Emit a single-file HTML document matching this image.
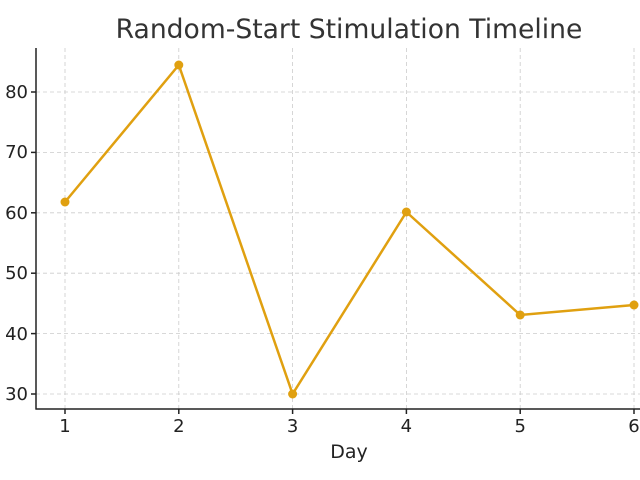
<!DOCTYPE html>
<html><head><style>body{margin:0;background:#fff}svg{display:block}</style></head><body>
<svg width="640" height="480" xmlns="http://www.w3.org/2000/svg" font-family="DejaVu Sans, Liberation Sans, sans-serif">
<rect width="640" height="480" fill="#fff"/>
<text x="349" y="38" font-size="26.6" fill="#333" text-anchor="middle">Random-Start Stimulation Timeline</text>
<g stroke="#ccc" stroke-width="0.8" stroke-dasharray="4,3">
<line x1="65" y1="48" x2="65" y2="409"/><line x1="178.8" y1="48" x2="178.8" y2="409"/><line x1="292.6" y1="48" x2="292.6" y2="409"/><line x1="406.4" y1="48" x2="406.4" y2="409"/><line x1="520.2" y1="48" x2="520.2" y2="409"/><line x1="634" y1="48" x2="634" y2="409"/>
<line x1="36" y1="394" x2="640" y2="394"/><line x1="36" y1="333.6" x2="640" y2="333.6"/><line x1="36" y1="273.2" x2="640" y2="273.2"/><line x1="36" y1="212.8" x2="640" y2="212.8"/><line x1="36" y1="152.4" x2="640" y2="152.4"/><line x1="36" y1="92" x2="640" y2="92"/>
</g>
<g stroke="#222" stroke-width="1.5"><line x1="36" y1="48" x2="36" y2="409.5"/><line x1="35.5" y1="409" x2="640" y2="409"/>
<line x1="31" y1="394" x2="36" y2="394"/><line x1="31" y1="333.6" x2="36" y2="333.6"/><line x1="31" y1="273.2" x2="36" y2="273.2"/><line x1="31" y1="212.8" x2="36" y2="212.8"/><line x1="31" y1="152.4" x2="36" y2="152.4"/><line x1="31" y1="92" x2="36" y2="92"/>
<line x1="65" y1="409" x2="65" y2="414"/><line x1="178.8" y1="409" x2="178.8" y2="414"/><line x1="292.6" y1="409" x2="292.6" y2="414"/><line x1="406.4" y1="409" x2="406.4" y2="414"/><line x1="520.2" y1="409" x2="520.2" y2="414"/><line x1="634" y1="409" x2="634" y2="414"/></g>
<g font-size="18" fill="#222" text-anchor="end"><text x="28" y="400">30</text><text x="28" y="340">40</text><text x="28" y="279">50</text><text x="28" y="219">60</text><text x="28" y="158">70</text><text x="28" y="98">80</text></g>
<g font-size="18" fill="#222" text-anchor="middle"><text x="65" y="432">1</text><text x="178.8" y="432">2</text><text x="292.6" y="432">3</text><text x="406.4" y="432">4</text><text x="520.2" y="432">5</text><text x="634" y="432">6</text></g>
<text x="349" y="458" font-size="19" fill="#222" text-anchor="middle">Day</text>
<polyline fill="none" stroke="#E0A010" stroke-width="2.5" points="65,202 178.8,65 292.6,394 406.4,212 520.2,315 634,305"/>
<g fill="#E0A010"><circle cx="65" cy="202" r="4.5"/><circle cx="178.8" cy="65" r="4.5"/><circle cx="292.6" cy="394" r="4.5"/><circle cx="406.4" cy="212" r="4.5"/><circle cx="520.2" cy="315" r="4.5"/><circle cx="634" cy="305" r="4.5"/></g>
</svg>
</body></html>
